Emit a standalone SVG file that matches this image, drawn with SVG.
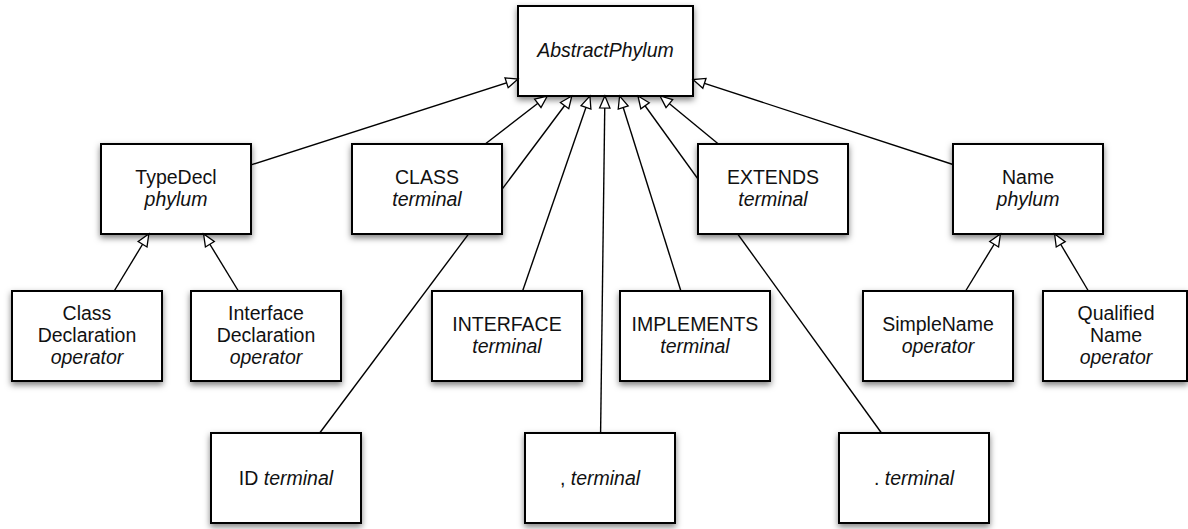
<svg xmlns="http://www.w3.org/2000/svg" width="1188" height="529" viewBox="0 0 1188 529">
  <defs>
    <filter id="shadow" x="-10%" y="-10%" width="125%" height="135%">
      <feDropShadow dx="0" dy="3" stdDeviation="3" flood-color="#000" flood-opacity="0.5"/>
    </filter>
    <marker id="inherit" markerUnits="userSpaceOnUse" markerWidth="16" markerHeight="14" refX="13.5" refY="7" orient="auto">
      <path d="M1.5,1.8 L13.5,7 L1.5,12.2 Z" fill="#fff" stroke="#000" stroke-width="1.3" stroke-linejoin="miter"/>
    </marker>
    <style>
      .box { fill: #fff; stroke: #000; stroke-width: 2; filter: url(#shadow); }
      .lbl { font-family: "Liberation Sans", Arial, Helvetica, sans-serif; font-size: 19.5px; fill: #111; text-anchor: middle; }
      .it { font-style: italic; }
      .edge { fill: none; stroke: #000; stroke-width: 1.4; marker-end: url(#inherit); }
    </style>
  </defs>
  <rect width="1188" height="529" fill="#fff"/>

  <!-- root phylum -->
  <g id="abstract-phylum">
    <rect class="box" x="518" y="6" width="175" height="90"/>
    <text class="lbl it" x="605.5" y="57">AbstractPhylum</text>
  </g>

  <g id="typedecl">
    <rect class="box" x="101" y="144" width="150" height="90"/>
    <text class="lbl" x="176" y="184">TypeDecl</text>
    <text class="lbl it" x="176" y="206">phylum</text>
  </g>

  <g id="name">
    <rect class="box" x="953" y="144" width="150" height="90"/>
    <text class="lbl" x="1028" y="184">Name</text>
    <text class="lbl it" x="1028" y="206">phylum</text>
  </g>

  <!-- inheritance connectors -->
  <g id="connectors">
    <line class="edge" x1="251" y1="164.9" x2="518" y2="79.1"/>
    <line class="edge" x1="485.2" y1="144" x2="547.3" y2="96"/>
    <line class="edge" x1="718.4" y1="144" x2="660.1" y2="96"/>
    <line class="edge" x1="953" y1="164.5" x2="693" y2="79.6"/>
    <line class="edge" x1="319.7" y1="433" x2="571.8" y2="96"/>
    <line class="edge" x1="522.6" y1="291" x2="589.9" y2="96"/>
    <line class="edge" x1="600.6" y1="433" x2="604.9" y2="96"/>
    <line class="edge" x1="680.9" y1="291" x2="619.6" y2="96"/>
    <line class="edge" x1="881.5" y1="433" x2="638" y2="96"/>
    <line class="edge" x1="114.2" y1="291" x2="148.8" y2="234"/>
    <line class="edge" x1="238.4" y1="291" x2="203.6" y2="234"/>
    <line class="edge" x1="965.6" y1="291" x2="1000.4" y2="234"/>
    <line class="edge" x1="1088.4" y1="291" x2="1054.6" y2="234"/>
  </g>

  <g id="class-terminal">
    <rect class="box" x="352" y="144" width="150" height="90"/>
    <text class="lbl" x="427" y="184">CLASS</text>
    <text class="lbl it" x="427" y="206">terminal</text>
  </g>

  <g id="extends-terminal">
    <rect class="box" x="698" y="144" width="150" height="90"/>
    <text class="lbl" x="773" y="184">EXTENDS</text>
    <text class="lbl it" x="773" y="206">terminal</text>
  </g>

  <g id="class-declaration">
    <rect class="box" x="12" y="291" width="150" height="90"/>
    <text class="lbl" x="87" y="320">Class</text>
    <text class="lbl" x="87" y="342">Declaration</text>
    <text class="lbl it" x="87" y="364">operator</text>
  </g>

  <g id="interface-declaration">
    <rect class="box" x="191" y="291" width="150" height="90"/>
    <text class="lbl" x="266" y="320">Interface</text>
    <text class="lbl" x="266" y="342">Declaration</text>
    <text class="lbl it" x="266" y="364">operator</text>
  </g>

  <g id="interface-terminal">
    <rect class="box" x="432" y="291" width="150" height="90"/>
    <text class="lbl" x="507" y="331">INTERFACE</text>
    <text class="lbl it" x="507" y="353">terminal</text>
  </g>

  <g id="implements-terminal">
    <rect class="box" x="620" y="291" width="150" height="90"/>
    <text class="lbl" x="695" y="331">IMPLEMENTS</text>
    <text class="lbl it" x="695" y="353">terminal</text>
  </g>

  <g id="simple-name">
    <rect class="box" x="863" y="291" width="150" height="90"/>
    <text class="lbl" x="938" y="331">SimpleName</text>
    <text class="lbl it" x="938" y="353">operator</text>
  </g>

  <g id="qualified-name">
    <rect class="box" x="1043" y="291" width="144" height="90"/>
    <text class="lbl" x="1116" y="320">Qualified</text>
    <text class="lbl" x="1116" y="342">Name</text>
    <text class="lbl it" x="1116" y="364">operator</text>
  </g>

  <g id="id-terminal">
    <rect class="box" x="211" y="433" width="150" height="90"/>
    <text class="lbl" x="286" y="485">ID <tspan class="it">terminal</tspan></text>
  </g>

  <g id="comma-terminal">
    <rect class="box" x="525" y="433" width="150" height="90"/>
    <text class="lbl" x="600" y="485">, <tspan class="it">terminal</tspan></text>
  </g>

  <g id="dot-terminal">
    <rect class="box" x="839" y="433" width="150" height="90"/>
    <text class="lbl" x="914" y="485">. <tspan class="it">terminal</tspan></text>
  </g>
</svg>
